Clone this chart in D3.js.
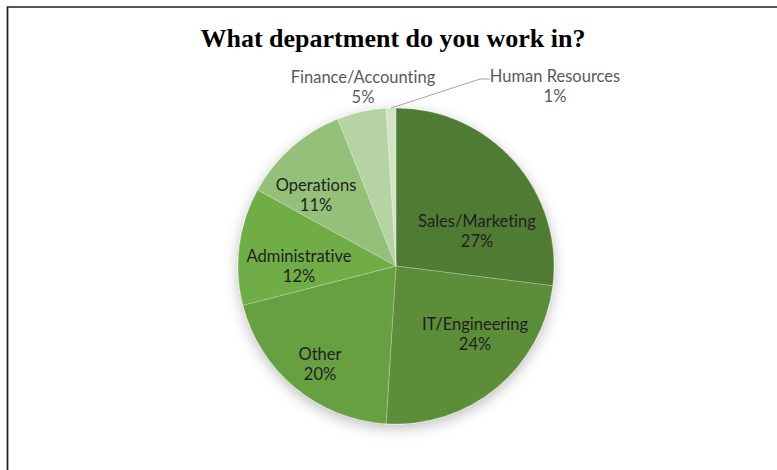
<!DOCTYPE html>
<html>
<head>
<meta charset="utf-8">
<script src="https://cdn.jsdelivr.net/npm/d3@7"></script>
<style>
  html, body { margin: 0; padding: 0; background: #fff; }
  svg { display: block; }
  .slice-labels text { font-variant-ligatures: none; font-feature-settings: "liga" 0, "clig" 0; }
</style>
</head>
<body>
<script>
// Survey responses: department of the respondent (percent)
const departments = ["Sales/Marketing", "IT/Engineering", "Other", "Administrative", "Operations", "Finance/Accounting", "Human Resources"];
const shares = [27, 24, 20, 12, 11, 5, 1];
const sliceColors = ["#507c31", "#5b8d38", "#66a041", "#70ad47", "#94c07a", "#b6d3a3", "#d3e5c8"];
const chartTitle = "What department do you work in?";

// label anchor offsets from the pie centre (line 1 baseline)
const labelOffsets = [[81, -39], [79, 64], [-76, 94], [-97, -4], [-80, -75], [-33, -183], [159, -184]];
const outsideLabel = [false, false, false, false, false, true, true];

const W = 777, H = 470;
const cx = 396, cy = 266, R = 158;

const svg = d3.select("body").append("svg").attr("width", W).attr("height", H);

const defs = svg.append("defs");
const shadow = defs.append("filter").attr("id", "pieShadow")
  .attr("x", "-20%").attr("y", "-20%").attr("width", "140%").attr("height", "145%");
shadow.append("feDropShadow").attr("dx", 0).attr("dy", 4).attr("stdDeviation", 7)
  .attr("flood-color", "#000").attr("flood-opacity", 0.26);

svg.append("rect").attr("width", W).attr("height", H).attr("fill", "#fff");

// frame (top and left edges)
svg.append("path").attr("d", `M7.5,${H} V7 H${W}`)
  .attr("fill", "none").attr("stroke", "#1e1e1e").attr("stroke-width", 1.7);

svg.append("text").attr("x", 393).attr("y", 47)
  .attr("text-anchor", "middle")
  .attr("font-family", "Liberation Serif, Times New Roman, serif")
  .attr("font-weight", "bold").attr("font-size", 26).attr("fill", "#000")
  .text(chartTitle);

const data = departments.map((name, i) => ({ name, value: shares[i], i }));
const pie = d3.pie().value(d => d.value).sort(null);
const arc = d3.arc().innerRadius(0).outerRadius(R);
const arcs = pie(data);

const g = svg.append("g").attr("transform", `translate(${cx},${cy})`);

g.append("g").attr("filter", "url(#pieShadow)")
  .selectAll("path").data(arcs).join("path")
  .attr("d", arc)
  .attr("fill", d => sliceColors[d.data.i])
  .attr("stroke", "rgba(255,255,255,0.3)").attr("stroke-width", 0.8);

// leader line for the small outside slice
const hrArc = arcs[6];
const edge = d3.arc().innerRadius(R).outerRadius(R).centroid(hrArc);
const elbow = [labelOffsets[6][0] - 75, labelOffsets[6][1] - 3];
g.append("polyline")
  .attr("points", [edge, elbow, [elbow[0] + 10, elbow[1]]].map(p => p.join(",")).join(" "))
  .attr("fill", "none").attr("stroke", "#a6a6a6").attr("stroke-width", 1);

const labels = g.append("g")
  .attr("class", "slice-labels")
  .attr("font-family", "Lato, Calibri, sans-serif")
  .attr("font-size", 16.5)
  .attr("text-anchor", "middle");

arcs.forEach(d => {
  const i = d.data.i;
  const [dx, dy] = labelOffsets[i];
  const t = labels.append("text")
    .attr("fill", outsideLabel[i] ? "#595959" : "#1f1f1f");
  t.append("tspan").attr("x", dx).attr("y", dy).text(d.data.name);
  t.append("tspan").attr("x", dx).attr("y", dy + 20).text(d.data.value + "%");
});
</script>
</body>
</html>
